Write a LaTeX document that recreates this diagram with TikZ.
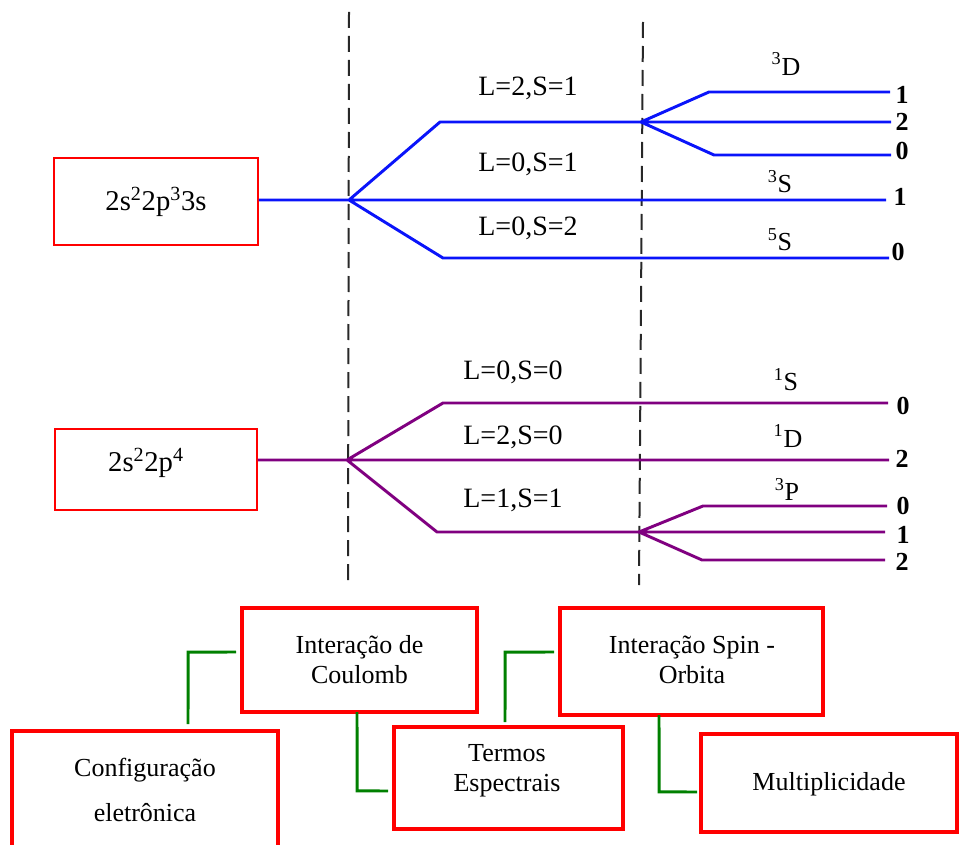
\documentclass[tikz,border=0pt]{standalone}
\usepackage{fontspec}
\setmainfont{Liberation Serif}
\definecolor{lvlblue}{RGB}{10,20,250}
\definecolor{lvlpurple}{RGB}{128,0,128}
\definecolor{linkgreen}{RGB}{0,128,0}
\definecolor{guidegray}{RGB}{40,40,40}
\begin{document}
\begin{tikzpicture}[x=0.75pt,y=-0.75pt,
  every node/.style={inner sep=0pt, font=\fontsize{19.5}{22.5}\selectfont},
  thinbox/.style={draw=red, line width=1.2pt, rectangle},
  thickbox/.style={draw=red, line width=2.6pt, rectangle},
  bluelvl/.style={draw=lvlblue, line width=2.2pt, line join=round},
  purplvl/.style={draw=lvlpurple, line width=2.2pt, line join=round},
  guide/.style={draw=guidegray, line width=1.5pt, dash pattern=on 12pt off 6pt},
  link/.style={draw=linkgreen, line width=2.2pt},
  jval/.style={font=\bfseries\fontsize{19.5}{22.5}\selectfont},
  lstxt/.style={font=\fontsize{21}{22.5}\selectfont},
  cfgtxt/.style={font=\fontsize{21.5}{24}\selectfont},
]
\clip (0,0) rectangle (960,845);

% ---- vertical dashed guides ----
\coordinate (dT1) at (349,12);  \coordinate (dB1) at (348,585);
\coordinate (dT2) at (643,22);  \coordinate (dB2) at (639,585);
\draw[guide] (dT1) -- (dB1);
\draw[guide] (dT2) -- (dB2);

% ---- configurations ----
\node[thinbox, minimum width=153pt, minimum height=65.25pt, cfgtxt] (cfgA) at (156,201.5) {2s\textsuperscript{2}2p\textsuperscript{3}3s};
\node[thinbox, minimum width=151.5pt, minimum height=60.75pt] (cfgB) at (156,469.5) {};
\node[cfgtxt] (cfgBt) at (146,463) {2s\textsuperscript{2}2p\textsuperscript{4}};

% ---- 2s2 2p3 3s levels ----
\coordinate (jA) at (349,200);
\coordinate (kA1) at (440,122);  \coordinate (kA2) at (443,258);
\coordinate (eA0) at (886,200);  \coordinate (eA2) at (889,258);
\coordinate (jB) at (641,122);
\coordinate (kB1) at (709,92);   \coordinate (kB2) at (714,155);
\coordinate (eB1) at (890,92);   \coordinate (eB2) at (891,122);  \coordinate (eB3) at (891,155);

\draw[bluelvl] (cfgA.east |- jA) -- (jA) -- (kA1) -- (jB)
               (jA) -- (eA0)
               (jA) -- (kA2) -- (eA2);
\draw[bluelvl] (jB) -- (kB1) -- (eB1)
               (jB) -- (eB2)
               (jB) -- (kB2) -- (eB3);

\node[lstxt] (lsA1) at (528,88)  {L=2,S=1};
\node[lstxt] (lsA2) at (528,164) {L=0,S=1};
\node[lstxt] (lsA3) at (528,228) {L=0,S=2};

\node (tA1) at (786,64)  {\textsuperscript{3}D};
\node (tA2) at (780,182) {\textsuperscript{3}S};
\node (tA3) at (780,240) {\textsuperscript{5}S};

\node[jval] (vA1) at (902,95)  {1};
\node[jval] (vA2) at (902,122) {2};
\node[jval] (vA3) at (902,151) {0};
\node[jval] (vA4) at (900,197) {1};
\node[jval] (vA5) at (898,252) {0};

% ---- 2s2 2p4 levels ----
\coordinate (jC) at (347,460);
\coordinate (kC1) at (443,403);  \coordinate (kC2) at (437,532);
\coordinate (eC1) at (888,403);  \coordinate (eC2) at (889,460);
\coordinate (jD) at (639,532);
\coordinate (kD1) at (703,506);  \coordinate (kD2) at (702,560);
\coordinate (eD1) at (887,506);  \coordinate (eD2) at (885,532);  \coordinate (eD3) at (885,560);

\draw[purplvl] (cfgB.east |- jC) -- (jC) -- (kC1) -- (eC1)
               (jC) -- (eC2)
               (jC) -- (kC2) -- (jD);
\draw[purplvl] (jD) -- (kD1) -- (eD1)
               (jD) -- (eD2)
               (jD) -- (kD2) -- (eD3);

\node[lstxt] (lsC1) at (513,372) {L=0,S=0};
\node[lstxt] (lsC2) at (513,437) {L=2,S=0};
\node[lstxt] (lsC3) at (513,500) {L=1,S=1};

\node (tC1) at (786,380) {\textsuperscript{1}S};
\node (tC2) at (788,436) {\textsuperscript{1}D};
\node (tC3) at (787,489) {\textsuperscript{3}P};

\node[jval] (vC1) at (903,406) {0};
\node[jval] (vC2) at (902,459) {2};
\node[jval] (vC3) at (903,506) {0};
\node[jval] (vC4) at (903,535) {1};
\node[jval] (vC5) at (902,562) {2};

% ---- legend boxes ----
\node[thickbox, minimum width=176.25pt, minimum height=78pt] (coul) at (359.5,660) {};
\node[align=center] (coulT) at (359.5,660) {Interação de\\Coulomb};

\node[thickbox, minimum width=197.25pt, minimum height=80.25pt] (spin) at (691.5,661.5) {};
\node[align=center] (spinT) at (692,660) {Interação Spin -\\Orbita};

\node[thickbox, minimum width=199.5pt, minimum height=88.5pt] (conf) at (145,790) {};
\node[align=center, font=\fontsize{19.5}{33.75}\selectfont] (confT) at (145,790) {Configuração\\eletrônica};

\node[thickbox, minimum width=171.75pt, minimum height=76.5pt] (term) at (508.5,778) {};
\node[align=center] (termT) at (507,771) {Termos\\Espectrais};

\node[thickbox, minimum width=192pt, minimum height=73.5pt] (mult) at (829,783) {};
\node (multT) at (829,784) {Multiplicidade};

% ---- green links (corners nudged a hair off the grid) ----
\coordinate (g1a) at (236,652); \coordinate (g1c) at (188.15,652.15); \coordinate (g1b) at (188,724);
\coordinate (g2a) at (357,712); \coordinate (g2c) at (357.15,790.85); \coordinate (g2b) at (388,791);
\coordinate (g3a) at (554,652); \coordinate (g3c) at (505.15,652.15); \coordinate (g3b) at (505,722);
\coordinate (g4a) at (659,715); \coordinate (g4c) at (659.15,791.85); \coordinate (g4b) at (697,792);
\draw[link] (g1a) -- (g1c) -- (g1b);
\draw[link] (g2a) -- (g2c) -- (g2b);
\draw[link] (g3a) -- (g3c) -- (g3b);
\draw[link] (g4a) -- (g4c) -- (g4b);
\end{tikzpicture}
\end{document}
